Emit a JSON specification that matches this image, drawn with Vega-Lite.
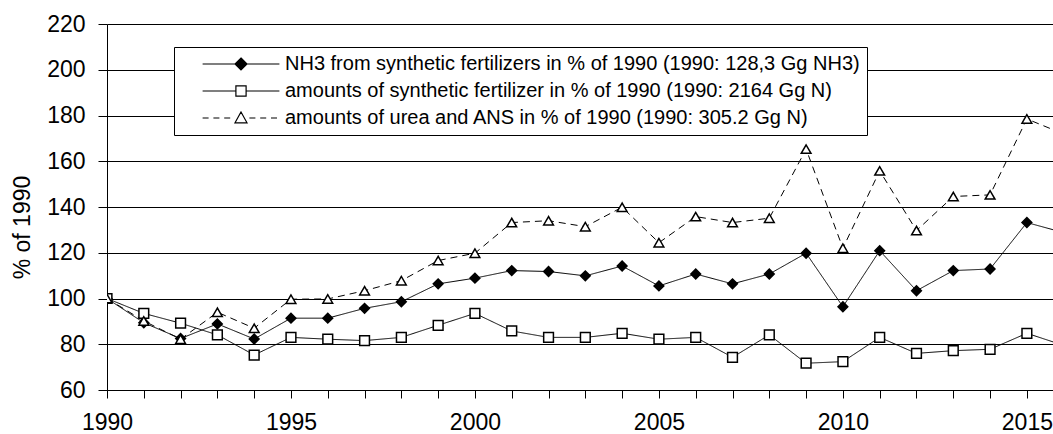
{
  "$schema": "https://vega.github.io/schema/vega-lite/v6.json",
  "autosize": {"type": "none"},
  "width": 946,
  "height": 366,
  "padding": {"left": 107, "top": 24, "right": 0, "bottom": 44},
  "background": "white",
  "config": {
    "font": "Liberation Sans",
    "view": {"stroke": null},
    "axis": {"labelColor": "black", "titleColor": "black", "domainColor": "black", "tickColor": "black", "labelFont": "Liberation Sans", "titleFont": "Liberation Sans", "titleFontWeight": "normal"}
  },
  "datasets": {
    "d": [
      {"year": 1990, "series": "A", "value": 100}, {"year": 1990, "series": "B", "value": 100}, {"year": 1990, "series": "C", "value": 100},
      {"year": 1991, "series": "A", "value": 89.4}, {"year": 1991, "series": "B", "value": 93.5}, {"year": 1991, "series": "C", "value": 90.2},
      {"year": 1992, "series": "A", "value": 82.5}, {"year": 1992, "series": "B", "value": 89.2}, {"year": 1992, "series": "C", "value": 82.2},
      {"year": 1993, "series": "A", "value": 88.9}, {"year": 1993, "series": "B", "value": 84.1}, {"year": 1993, "series": "C", "value": 94.0},
      {"year": 1994, "series": "A", "value": 82.3}, {"year": 1994, "series": "B", "value": 75.3}, {"year": 1994, "series": "C", "value": 87.0},
      {"year": 1995, "series": "A", "value": 91.4}, {"year": 1995, "series": "B", "value": 83.0}, {"year": 1995, "series": "C", "value": 99.7},
      {"year": 1996, "series": "A", "value": 91.4}, {"year": 1996, "series": "B", "value": 82.2}, {"year": 1996, "series": "C", "value": 99.8},
      {"year": 1997, "series": "A", "value": 95.7}, {"year": 1997, "series": "B", "value": 81.6}, {"year": 1997, "series": "C", "value": 103.4},
      {"year": 1998, "series": "A", "value": 98.6}, {"year": 1998, "series": "B", "value": 83.0}, {"year": 1998, "series": "C", "value": 107.8},
      {"year": 1999, "series": "A", "value": 106.4}, {"year": 1999, "series": "B", "value": 88.3}, {"year": 1999, "series": "C", "value": 116.6},
      {"year": 2000, "series": "A", "value": 108.9}, {"year": 2000, "series": "B", "value": 93.5}, {"year": 2000, "series": "C", "value": 119.8},
      {"year": 2001, "series": "A", "value": 112.2}, {"year": 2001, "series": "B", "value": 85.8}, {"year": 2001, "series": "C", "value": 133.2},
      {"year": 2002, "series": "A", "value": 111.8}, {"year": 2002, "series": "B", "value": 83.0}, {"year": 2002, "series": "C", "value": 134.0},
      {"year": 2003, "series": "A", "value": 109.9}, {"year": 2003, "series": "B", "value": 83.0}, {"year": 2003, "series": "C", "value": 131.4},
      {"year": 2004, "series": "A", "value": 114.2}, {"year": 2004, "series": "B", "value": 84.8}, {"year": 2004, "series": "C", "value": 139.9},
      {"year": 2005, "series": "A", "value": 105.5}, {"year": 2005, "series": "B", "value": 82.2}, {"year": 2005, "series": "C", "value": 124.4},
      {"year": 2006, "series": "A", "value": 110.7}, {"year": 2006, "series": "B", "value": 83.0}, {"year": 2006, "series": "C", "value": 135.8},
      {"year": 2007, "series": "A", "value": 106.4}, {"year": 2007, "series": "B", "value": 74.3}, {"year": 2007, "series": "C", "value": 133.2},
      {"year": 2008, "series": "A", "value": 110.7}, {"year": 2008, "series": "B", "value": 84.1}, {"year": 2008, "series": "C", "value": 135.1},
      {"year": 2009, "series": "A", "value": 119.8}, {"year": 2009, "series": "B", "value": 71.7}, {"year": 2009, "series": "C", "value": 165.3},
      {"year": 2010, "series": "A", "value": 96.4}, {"year": 2010, "series": "B", "value": 72.4}, {"year": 2010, "series": "C", "value": 122.0},
      {"year": 2011, "series": "A", "value": 120.9}, {"year": 2011, "series": "B", "value": 83.0}, {"year": 2011, "series": "C", "value": 155.8},
      {"year": 2012, "series": "A", "value": 103.4}, {"year": 2012, "series": "B", "value": 76.0}, {"year": 2012, "series": "C", "value": 129.7},
      {"year": 2013, "series": "A", "value": 112.2}, {"year": 2013, "series": "B", "value": 77.2}, {"year": 2013, "series": "C", "value": 144.6},
      {"year": 2014, "series": "A", "value": 112.9}, {"year": 2014, "series": "B", "value": 77.8}, {"year": 2014, "series": "C", "value": 145.3},
      {"year": 2015, "series": "A", "value": 133.2}, {"year": 2015, "series": "B", "value": 84.8}, {"year": 2015, "series": "C", "value": 178.5},
      {"year": 2016, "series": "A", "value": 128.8}, {"year": 2016, "series": "B", "value": 79.5}, {"year": 2016, "series": "C", "value": 171.9}
    ]
  },
  "data": {"name": "d"},
  "encoding": {
    "x": {
      "field": "year", "type": "quantitative",
      "scale": {"domain": [1990, 2015.71], "nice": false, "zero": false},
      "axis": {
        "title": null,
        "values": [1990, 1991, 1992, 1993, 1994, 1995, 1996, 1997, 1998, 1999, 2000, 2001, 2002, 2003, 2004, 2005, 2006, 2007, 2008, 2009, 2010, 2011, 2012, 2013, 2014, 2015],
        "labelExpr": "datum.value % 5 === 0 ? datum.label : ''",
        "format": "d",
        "labelOverlap": false,
        "labelFlush": false,
        "labelFontSize": 23,
        "labelPadding": 13,
        "tickSize": 8,
        "grid": false,
        "encode": {"ticks": {"y": {"value": -6}, "y2": {"condition": {"test": "datum.value % 5 === 0", "value": 8}, "value": 0}}}
      }
    },
    "y": {
      "field": "value", "type": "quantitative",
      "scale": {"domain": [60, 220], "nice": false, "zero": false},
      "axis": {
        "title": "% of 1990",
        "values": [60, 80, 100, 120, 140, 160, 180, 200, 220],
        "labelFontSize": 23,
        "labelPadding": 13,
        "tickSize": 9,
        "grid": true,
        "gridColor": "black",
        "gridOpacity": 1,
        "gridWidth": 1,
        "titleFontSize": 23,
        "titleX": -85,
        "titleY": 203,
        "titleAngle": 270,
        "titleBaseline": "middle",
        "titleAlign": "center"
      }
    }
  },
  "layer": [
    {
      "mark": {"type": "line", "color": "black", "strokeWidth": 1, "clip": true},
      "encoding": {
        "detail": {"field": "series", "type": "nominal"},
        "strokeDash": {
          "field": "series", "type": "nominal",
          "scale": {"domain": ["A", "B", "C"], "range": [[1, 0], [1, 0], [7, 5]]},
          "legend": null
        }
      }
    },
    {
      "mark": {"type": "point", "filled": true, "stroke": "black", "strokeWidth": 1.5, "opacity": 1, "size": 95, "clip": true},
      "encoding": {
        "shape": {
          "field": "series", "type": "nominal",
          "scale": {"domain": ["A", "B", "C"], "range": ["diamond", "square", "triangle-up"]},
          "legend": null
        },
        "fill": {
          "field": "series", "type": "nominal",
          "scale": {"domain": ["A", "B", "C"], "range": ["black", "white", "white"]},
          "legend": null
        }
      }
    },
    {
      "mark": {"type": "point", "filled": true, "opacity": 0, "clip": true},
      "encoding": {
        "shape": {
          "field": "series", "type": "nominal",
          "scale": {"domain": ["A", "B", "C"], "range": [
            "M0,-1L1,0L0,1L-1,0Z M-6.4,0L-1,0 M1,0L6.4,0",
            "M-0.85,-0.85L0.85,-0.85L0.85,0.85L-0.85,0.85Z M-6.4,0L-0.85,0 M0.85,0L6.4,0",
            "M0,-1L1,0.8L-1,0.8Z M-6.4,0L-5.4,0 M-4.6,0L-3.6,0 M-2.8,0L-1.8,0 M1.4,0L2.4,0 M3.2,0L4.2,0 M5.0,0L6.0,0"
          ]},
          "legend": {
            "title": null,
            "orient": "none",
            "legendX": 67,
            "legendY": 23,
            "padding": 7,
            "fillColor": "white",
            "strokeColor": "black",
            "cornerRadius": 0,
            "symbolSize": 144,
            "symbolStrokeColor": "black",
            "symbolStrokeWidth": 1.2,
            "symbolOpacity": 1,
            "symbolOffset": 50,
            "labelOffset": 34,
            "labelFontSize": 20,
            "labelFont": "Liberation Sans",
            "labelColor": "black",
            "labelLimit": 800,
            "rowPadding": 7,
            "encode": {"symbols": {"stroke": {"value": "black"}, "strokeWidth": {"value": 1.2}, "opacity": {"value": 1}}},
            "labelExpr": "datum.label === 'A' ? 'NH3 from synthetic fertilizers in % of 1990 (1990: 128,3 Gg NH3)' : datum.label === 'B' ? 'amounts of synthetic fertilizer in % of 1990 (1990: 2164 Gg N)' : 'amounts of urea and ANS in % of 1990 (1990: 305.2 Gg N)'"
          }
        },
        "fill": {
          "field": "series", "type": "nominal",
          "scale": {"domain": ["A", "B", "C"], "range": ["black", "white", "white"]}
        },
        "stroke": {
          "field": "series", "type": "nominal",
          "scale": {"domain": ["A", "B", "C"], "range": ["black", "black", "black"]}
        }
      }
    }
  ],
  "resolve": {"scale": {"shape": "independent", "fill": "independent", "stroke": "independent"}, "legend": {"shape": "independent", "fill": "independent", "stroke": "independent"}}
}
